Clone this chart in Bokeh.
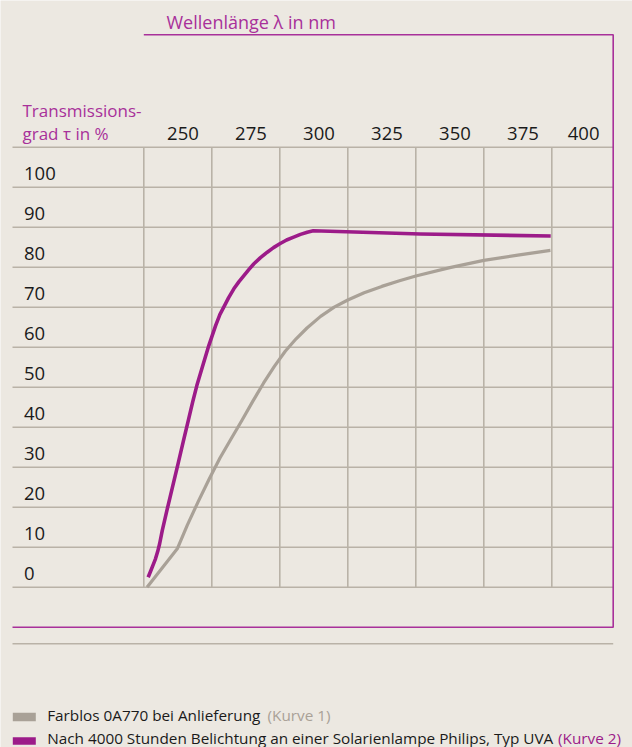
from bokeh.plotting import figure
from bokeh.models import Range1d
from bokeh.core.properties import value
from bokeh.embed import file_html
from bokeh.resources import INLINE

# ---------------- data ----------------
wavelength_ticks = [250, 275, 300, 325, 350, 375, 400]
transmission_ticks = [0, 10, 20, 30, 40, 50, 60, 70, 80, 90, 100]

# Kurve 1: Farblos 0A770 bei Anlieferung
curve1_nm = [251.2, 262.3, 266.0, 270.0, 274.0, 278.0, 282.0, 286.0, 290.0, 294.0,
             298.0, 302.0, 306.0, 310.0, 315.0, 320.0, 325.0, 331.0, 337.5, 344.0,
             350.0, 362.5, 375.0, 387.5, 399.5]
curve1_t = [0.0, 9.6, 15.5, 21.4, 27.0, 32.3, 37.0, 41.6, 46.4, 51.0,
            55.2, 59.0, 62.1, 64.8, 67.7, 70.0, 71.8, 73.6, 75.2, 76.6,
            77.8, 79.9, 81.7, 83.0, 84.2]

# Kurve 2: nach 4000 Stunden Belichtung
curve2_nm = [251.6, 252.5, 253.5, 254.3, 255.1, 255.8, 256.8, 258.5, 260.5, 262.5,
             264.5, 266.5, 268.0, 269.5, 271.5, 273.9, 276.4, 278.0, 279.4, 281.2,
             283.1, 285.0, 286.8, 288.6, 290.4, 292.9, 295.4, 297.7, 300.0, 302.5,
             305.1, 307.6, 310.1, 312.3, 351.7, 399.6]
curve2_t = [2.5, 4.0, 5.7, 7.1, 8.9, 10.8, 14.2, 19.2, 24.9, 30.6,
            36.4, 42.1, 46.4, 50.4, 55.0, 60.4, 65.4, 68.2, 70.0, 72.4,
            74.6, 76.4, 77.9, 79.4, 80.8, 82.4, 83.75, 84.9, 85.85, 86.8,
            87.5, 88.2, 88.75, 89.1, 88.3, 87.8]

x_title = "Wellenlänge λ in nm"
y_title = ["Transmissions-", "grad τ in %"]
legend1 = ("Farblos 0A770 bei Anlieferung", "(Kurve 1)")
legend2 = ("Nach 4000 Stunden Belichtung an einer Solarienlampe Philips, Typ UVA", "(Kurve 2)")

# ---------------- style ----------------
BG = "#ECE8E1"
GRID = "#B9B2A7"
GRAY = "#A9A197"
MAGENTA = "#9C1B89"
FRAME = "#A8309A"
TEXT = "#1A1A1A"
FONT = value("Open Sans")
BASE_FIX = 5.5  # svg baseline correction (px)

W, H = 632, 747
X_ORIGIN_PX, PX_PER_NM = 143.3, 68 / 25
Y_ORIGIN_PX, PX_PER_PCT = 586.7, 4.0


def xd(px):
    return 250 + (px - X_ORIGIN_PX) / PX_PER_NM


def yd(py):
    return (Y_ORIGIN_PX - py) / PX_PER_PCT


def yb(py):
    return yd(py - BASE_FIX)


p = figure(width=W, height=H, output_backend="svg", toolbar_location=None,
           x_range=Range1d(xd(0), xd(W)), y_range=Range1d(yd(H), yd(0)),
           x_axis_type=None, y_axis_type=None, min_border=0)
p.min_border_left = p.min_border_right = p.min_border_top = p.min_border_bottom = 0
p.grid.visible = False
p.outline_line_color = None
p.background_fill_color = BG
p.border_fill_color = BG

LEFT = xd(12)
RIGHT = xd(612.7)
TOP_T = transmission_ticks[-1] + 10

hy = transmission_ticks + [TOP_T]
p.segment(x0=[LEFT] * len(hy), y0=hy, x1=[RIGHT] * len(hy), y1=hy,
          line_color=GRID, line_width=1.6)
p.segment(x0=wavelength_ticks, y0=[0] * len(wavelength_ticks),
          x1=wavelength_ticks, y1=[TOP_T] * len(wavelength_ticks),
          line_color=GRID, line_width=1.6)

p.line(x=[xd(143.3), RIGHT, RIGHT, LEFT], y=[yd(34.3), yd(34.3), yd(626.7), yd(626.7)],
       line_color=FRAME, line_width=1.6)
p.segment(x0=[LEFT], y0=[yd(643.3)], x1=[RIGHT], y1=[yd(643.3)],
          line_color=GRID, line_width=1.6)

p.line(x=curve1_nm, y=curve1_t, line_color=GRAY, line_width=3.2, line_join="round")
p.line(x=curve2_nm, y=curve2_t, line_color=MAGENTA, line_width=3.6, line_join="round")

lab_x = [min(xd(X_ORIGIN_PX + (w - 250) * PX_PER_NM + 55), xd(612.7 - 13.7)) for w in wavelength_ticks]
p.text(x=lab_x, y=[yb(138.3)] * len(wavelength_ticks), text=[str(w) for w in wavelength_ticks],
       text_font=FONT, text_font_size=value("18.5px"), text_color=TEXT,
       text_align="right", text_baseline="alphabetic")

p.text(x=[xd(23.5)] * len(transmission_ticks),
       y=[t + (8 + BASE_FIX) / PX_PER_PCT for t in transmission_ticks],
       text=[str(t) for t in transmission_ticks],
       text_font=FONT, text_font_size=value("18.5px"), text_color=TEXT,
       text_align="left", text_baseline="alphabetic")

p.text(x=[xd(166)], y=[yb(26.7)], text=[x_title], text_font=FONT,
       text_font_size=value("18px"), text_color=FRAME, text_baseline="alphabetic")
p.text(x=[xd(22), xd(22)], y=[yb(115), yb(138.3)], text=y_title, text_font=FONT,
       text_font_size=value("17px"), text_color=FRAME, text_baseline="alphabetic")

p.quad(left=[xd(12.3), xd(12.3)], right=[xd(35.3), xd(35.3)],
       top=[yd(712.3), yd(736.7)], bottom=[yd(720.7), yd(744.3)],
       fill_color=[GRAY, MAGENTA], line_color=None)
p.text(x=[xd(46.7), xd(46.7)], y=[yb(720.3), yb(743.0)], text=[legend1[0], legend2[0]],
       text_font=FONT, text_font_size=value("15.3px"), text_color=TEXT,
       text_baseline="alphabetic")
p.text(x=[xd(267), xd(557.5)], y=[yb(720.3), yb(743.0)], text=[legend1[1], legend2[1]],
       text_font=FONT, text_font_size=value("15.3px"), text_color=[GRAY, MAGENTA],
       text_baseline="alphabetic")

open("out.html", "w").write(file_html(p, INLINE))
